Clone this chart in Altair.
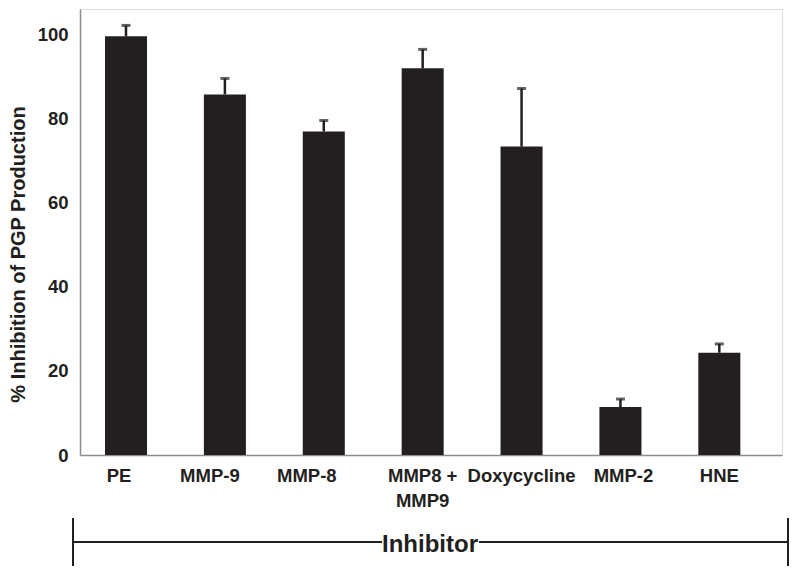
import altair as alt
import pandas as pd

categories = ["PE", "MMP-9", "MMP-8", "MMP8 +\nMMP9", "Doxycycline", "MMP-2", "HNE"]
values = [99.5, 85.7, 76.9, 91.9, 73.3, 11.4, 24.3]
errors = [2.6, 3.8, 2.6, 4.5, 13.8, 1.9, 2.1]
y_ticks = [0, 20, 40, 60, 80, 100]

df = pd.DataFrame({"cat": categories, "val": values, "err": errors})
df["top"] = df["val"] + df["err"]

FONT = "Liberation Sans"
INK = "#231f20"
W, H = 702, 446

xscale = alt.Scale(type="band", paddingInner=0.575, paddingOuter=0.337, align=0.375)
xenc = alt.X("cat:N", sort=categories, scale=xscale,
             axis=alt.Axis(title=None, labelAngle=0, ticks=False, domainColor="#8c8c8c",
                           domainWidth=1.5, labelFont=FONT, labelFontSize=18.5,
                           labelFontWeight="bold", labelColor=INK, labelPadding=11,
                           labelLineHeight=25,
                           labelOffset=alt.ExprRef(
                               "datum.value == 'PE' ? -7 : datum.value == 'MMP-9' ? -15 : "
                               "datum.value == 'MMP-8' ? -17 : datum.value == 'MMP-2' ? 3 : 0"),
                           labelExpr="split(datum.label, '\\n')"))
yscale = alt.Scale(domain=[0, 106], nice=False)
yenc = alt.Y("val:Q", scale=yscale,
             axis=alt.Axis(title="% Inhibition of PGP Production", values=y_ticks, grid=False,
                           ticks=False, domainColor="#8c8c8c", domainWidth=1.5,
                           labelFont=FONT, labelFontSize=18.5, labelFontWeight="bold",
                           labelColor=INK, labelPadding=12,
                           titleFont=FONT, titleFontSize=20, titleFontWeight="bold",
                           titleColor=INK, titleX=-62, titleY=245, titleAngle=270,
                           titleAlign="center", titleBaseline="middle"))

base = alt.Chart(df)
bars = base.mark_bar(color=INK).encode(x=xenc, y=yenc)
stems = base.mark_rule(color=INK, strokeWidth=2.5).encode(
    x=alt.X("cat:N", sort=categories), y="val:Q", y2="top:Q")
caps = base.mark_tick(color=INK, size=9, thickness=3, orient="horizontal").encode(
    x=alt.X("cat:N", sort=categories), y="top:Q")

one = pd.DataFrame({"k": [0]})
ann = alt.Chart(one)
line_l = ann.mark_rule(color=INK, strokeWidth=2).encode(
    x=alt.value(-7), x2=alt.value(302), y=alt.value(533))
line_r = ann.mark_rule(color=INK, strokeWidth=2).encode(
    x=alt.value(399), x2=alt.value(708), y=alt.value(533))
tick_l = ann.mark_rule(color=INK, strokeWidth=2).encode(
    x=alt.value(-7), y=alt.value(509), y2=alt.value(557))
tick_r = ann.mark_rule(color=INK, strokeWidth=2).encode(
    x=alt.value(708), y=alt.value(509), y2=alt.value(557))
label = ann.mark_text(text="Inhibitor", font=FONT, fontSize=24, fontWeight="bold",
                      color=INK, align="center", baseline="alphabetic").encode(
    x=alt.value(350), y=alt.value(543))

chart = alt.layer(bars, stems, caps, line_l, line_r, tick_l, tick_r, label).properties(
    width=W, height=H,
    autosize=alt.AutoSizeParams(type="none"),
    padding={"left": 72, "top": 1, "right": 10, "bottom": 113},
).configure_view(stroke=None).configure(background="white")

chart.save("out.html", embed_options={"renderer": "svg", "actions": False})
